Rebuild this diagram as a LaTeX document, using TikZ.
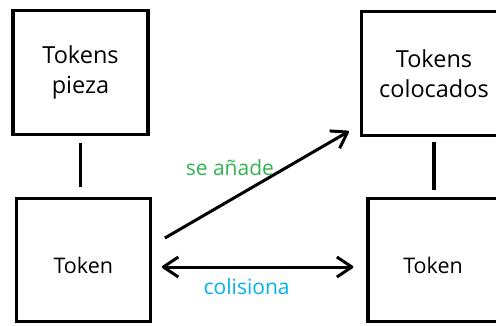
\documentclass[tikz,border=0pt]{standalone}
\usepackage{fontspec}
\setmainfont{Open Sans}
\usetikzlibrary{arrows.meta}
\definecolor{addgreen}{RGB}{50,180,80}
\definecolor{hitblue}{RGB}{0,176,240}

\begin{document}
\begin{tikzpicture}[x=1pt,y=-1pt,
    bigbox/.style={draw,line width=3.2pt,minimum width=135pt,minimum height=124pt,inner sep=0pt,align=center,font=\fontsize{23.5}{30.7}\selectfont},
    smallbox/.style={draw,line width=3.2pt,minimum height=123pt,inner sep=0pt,text height=26pt,text depth=0pt,font=\fontsize{21.5}{24}\selectfont},
    link/.style={line width=3.2pt},
    barb/.tip={Straight Barb[length=15pt,width=20pt,line join=round]},
    arr/.style={line width=3pt,-barb},
    lbl/.style={font=\fontsize{21}{24}\selectfont}]
    \useasboundingbox (0,0) rectangle (496,325);
    \clip (0,0) rectangle (496,325);

    \node [bigbox] (pieza) at (80.5,72.4) {Tokens\\pieza}; % upper left
    \node [smallbox,minimum width=134pt] (tokA) at (83.3,260) {Token}; % lower left
    \node [bigbox,minimum width=145pt] (coloc) at (434,73.7) {Tokens\\colocados}; % upper right
    \node [smallbox,minimum width=130pt] (tokB) at (433,260.2) {Token}; % lower right

    \draw [link,shorten <=7pt,shorten >=9.8pt] (pieza.south) -- (pieza.south |- tokA.north); % left link
    \draw [link,shorten <=4.5pt,shorten >=7pt] (coloc.south) -- (coloc.south |- tokB.north); % right link

    \draw [arr] ([xshift=13pt,yshift=22pt]tokA.east) -- ([xshift=-11pt,yshift=6pt]coloc.south west)
        node [midway,xshift=-27pt,yshift=17pt,text=addgreen,lbl] (add) {se añade}; % adds
    \draw [arr,barb-barb] ([xshift=10pt,yshift=-7pt]tokA.east) -- ([xshift=-13pt,yshift=-7pt]tokA.east -| tokB.west)
        node [midway,xshift=-11pt,yshift=-20pt,text=hitblue,lbl] (hit) {colisiona}; % collides
\end{tikzpicture}
\end{document}
